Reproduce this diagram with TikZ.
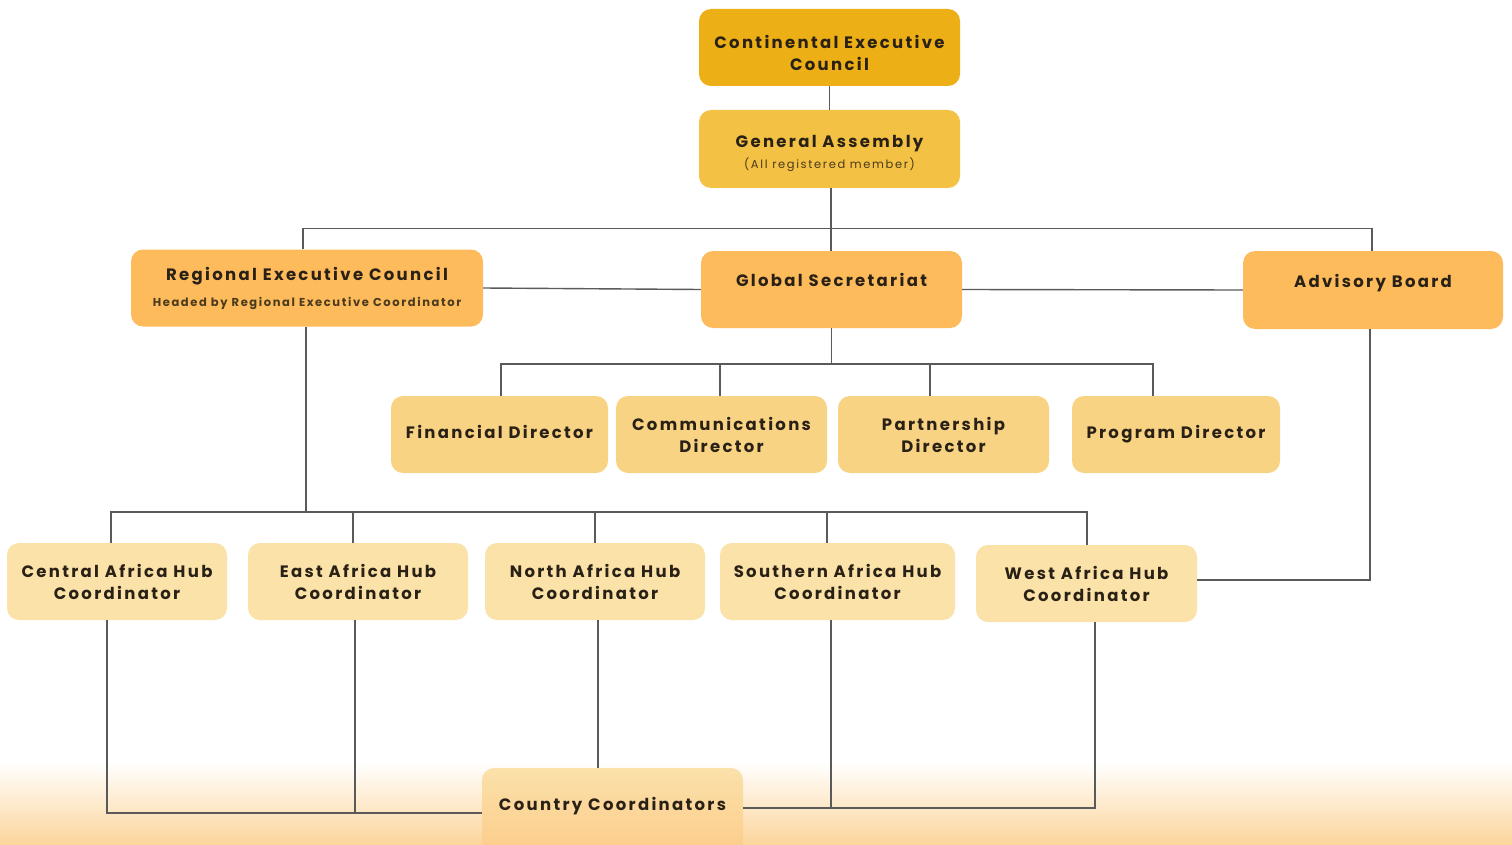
\documentclass[tikz,border=0pt]{standalone}
\usepackage{fontspec}
\setmainfont{Poppins}[LetterSpace=14]
\usetikzlibrary{calc}
\definecolor{cgold}{HTML}{EDAF16}
\definecolor{cga}{HTML}{F3C244}
\definecolor{corange}{HTML}{FDBB5C}
\definecolor{cdir}{HTML}{F8D383}
\definecolor{chub}{HTML}{FAE2A8}
\definecolor{ccc}{HTML}{FBE1AA}
\definecolor{cbot}{HTML}{FCD59A}
\definecolor{ctext}{HTML}{2A2116}
\definecolor{csub}{HTML}{4A3A1E}
\definecolor{cline}{HTML}{5A5A5A}
\tikzset{
  box/.style={rectangle, rounded corners=12pt, draw=none, align=center,
    text=ctext, font=\bfseries\fontsize{16.5}{22}\selectfont, inner sep=2pt},
  oneline/.style={text height=12pt, text depth=#1},
  conn/.style={draw=cline, line width=1.4pt},
}
\newcommand{\subtxt}[1]{{\color{csub}\fontsize{11.5}{14}\selectfont #1}}
\newcommand{\topgap}[1]{\rule{0pt}{#1}}
\begin{document}
\begin{tikzpicture}[x=1pt,y=-1pt]
\useasboundingbox (0,0) rectangle (1512,845);
\fill[white] (0,0) rectangle (1512,845);
\shade[top color=white, bottom color=cbot] (0,762) rectangle (1512,845);

% nodes
\node[box, fill=cgold, minimum width=261pt, minimum height=77pt] (cec) at (829.5,47.5)
  {\topgap{24pt}Continental Executive\\Council};
\node[box, fill=cga, minimum width=261pt, minimum height=78pt] (ga) at (829.5,149)
  {\topgap{22pt}General Assembly\\[-1pt]\subtxt{\mdseries(All registered member)}};
\node[box, fill=corange, minimum width=352pt, minimum height=77pt] (rec) at (307,288)
  {Regional Executive Council\\[4pt]\subtxt{Headed by Regional Executive Coordinator}};
\node[box, fill=corange, minimum width=261pt, minimum height=77pt, oneline=18pt] (gs) at (831.5,289.5)
  {Global Secretariat};
\node[box, fill=corange, minimum width=260pt, minimum height=78pt, oneline=18pt] (ab) at (1373,290)
  {Advisory Board};

\node[box, fill=cdir, minimum width=217pt, minimum height=77pt, oneline=4pt] (fd) at (499.5,434.5) {Financial Director};
\node[box, fill=cdir, minimum width=211pt, minimum height=77pt] (cd) at (721.5,434.5) {Communications\\Director};
\node[box, fill=cdir, minimum width=211pt, minimum height=77pt] (pd) at (943.5,434.5) {Partnership\\Director};
\node[box, fill=cdir, minimum width=208pt, minimum height=77pt, oneline=4pt] (prd) at (1176,434.5) {Program Director};

\node[box, fill=chub, minimum width=220pt, minimum height=77pt] (ca) at (117,581.5) {Central Africa Hub\\Coordinator};
\node[box, fill=chub, minimum width=220pt, minimum height=77pt] (ea) at (358,581.5) {East Africa Hub\\Coordinator};
\node[box, fill=chub, minimum width=220pt, minimum height=77pt] (na) at (595,581.5) {North Africa Hub\\Coordinator};
\node[box, fill=chub, minimum width=235pt, minimum height=77pt] (sa) at (837.5,581.5) {Southern Africa Hub\\Coordinator};
\node[box, fill=chub, minimum width=221pt, minimum height=77pt] (wa) at (1086.5,583.5) {West Africa Hub\\Coordinator};

\node[box, top color=ccc, bottom color=cbot!90!orange, minimum width=261pt, minimum height=84pt,
  oneline=12pt] (cc) at (612.5,810) {Country Coordinators};

% connectors
\draw[conn] (cec.south) -- (ga.north);
\draw[conn] ([xshift=1.5pt]ga.south) -- ([xshift=-0.5pt]gs.north);
\draw[conn] ([xshift=-4pt]rec.north) -- ++(0,-21) coordinate (tl) -| ([xshift=-1pt]ab.north);
\draw[conn] (rec.east) -- (gs.west);
\draw[conn] (gs.east) -- (ab.west);

\draw[conn] (gs.south) -- ++(0,36) coordinate (dbar);
\draw[conn] ([xshift=1.5pt]fd.north) -- ++(0,-32) -| ([xshift=-23pt]prd.north);
\draw[conn] ([xshift=-1.5pt]cd.north) -- ++(0,-32);
\draw[conn] ([xshift=-13.5pt]pd.north) -- ++(0,-32);

\draw[conn] ([xshift=-1pt]rec.south) -- ++(0,184) coordinate (hbar);
\draw[conn] ([xshift=-6pt]ca.north) -- ++(0,-31) -| ([xshift=0.5pt]wa.north);
\draw[conn] ([xshift=-5pt]ea.north) -- ++(0,-31);
\draw[conn] (na.north) -- ++(0,-31);
\draw[conn] ([xshift=-10.5pt]sa.north) -- ++(0,-31);

\draw[conn] ([xshift=-3pt]ab.south) |- ([yshift=3.5pt]wa.east);

\draw[conn] ([xshift=-10pt]ca.south) |- ([yshift=-3pt]cc.west);
\draw[conn] ([xshift=-3pt]ea.south) -- ++(0,192.5);
\draw[conn] ([xshift=3pt]na.south) -- ([xshift=-14.5pt]cc.north);
\draw[conn] ([xshift=8.5pt]wa.south) |- ([yshift=2pt]cc.east);
\draw[conn] ([xshift=-6.5pt]sa.south) -- ++(0,188);
\end{tikzpicture}
\end{document}
